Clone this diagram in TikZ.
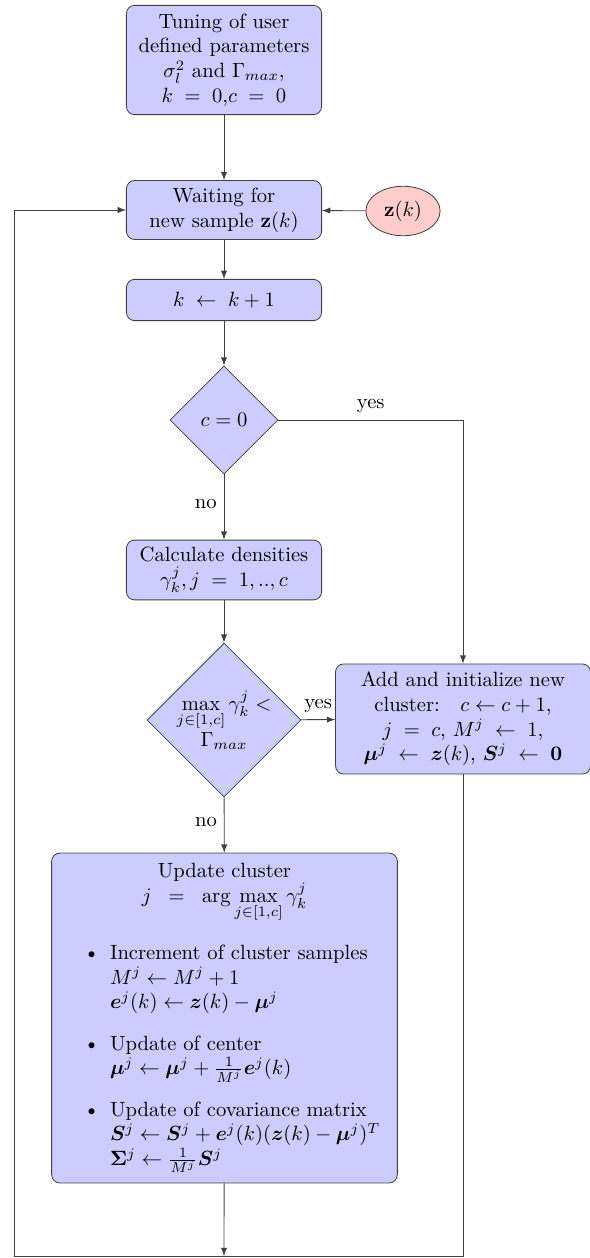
\documentclass[tikz,border=0pt]{standalone}
\usepackage{amsmath,bm}
\usetikzlibrary{shapes.geometric}
\begin{document}
\begin{tikzpicture}[x=0.485pt, y=-0.485pt,
  block/.style={draw=black!75, fill=blue!20, rounded corners=4pt, minimum width=94pt, text width=88pt, align=flush center},
  decision/.style={draw=black!75, fill=blue!20, diamond, aspect=1, inner sep=0pt, align=flush center},
  source/.style={draw=black!75, fill=red!20, ellipse, minimum width=36pt, minimum height=24pt, inner sep=1pt},
  line/.style={draw=black!75, -latex}]
  \useasboundingbox (0,0) rectangle (590,1258);
  \node[block, minimum height=53pt] (tune) at (224,60) {Tuning of user defined parameters $\sigma_l^2$ and $\Gamma_{max}$,\\ $k \;=\; 0$,$c \;=\; 0$};
  \node[block, minimum height=28.6pt] (wait) at (224,210) {Waiting for\\ new sample $\mathbf{z}(k)$};
  \node[source] (zk) at (403,211) {$\mathbf{z}(k)$};
  \node[block, minimum height=20pt] (inc) at (224,300) {$k \;\leftarrow\; k+1$};
  \node[decision, minimum width=52.4pt, minimum height=52.4pt] (czero) at (224,420) {$c=0$};
  \node[block, minimum height=29pt] (dens) at (224,570) {Calculate densities\\ $\gamma_k^j, j \;=\; 1,..,c$};
  \node[decision, minimum width=74.7pt, minimum height=74.7pt] (cmax) at (224,720) {$\max\limits_{j\in[1,c]}\gamma_k^j <$\\ $\Gamma_{max}$};
  \node[block, minimum width=123.2pt, text width=117pt, minimum height=53.4pt] (add) at (463,719) {Add and initialize new cluster:\quad $c \leftarrow c+1$,\\ $j \;=\; c$, $M^j \;\leftarrow\; 1$,\\ $\bm{\mu}^j \;\leftarrow\; \bm{z}(k)$, $\bm{S}^j \;\leftarrow\; \mathbf{0}$};
  \node[draw=black!75, fill=blue!20, rounded corners=4pt, text width=161pt, minimum height=160pt] (upd) at (224.5,1018) {%
    {\centering Update cluster\\ $j \;\;=\;\; \arg\max\limits_{j\in[1,c]}\gamma_k^j$\par}
    \begin{itemize}
      \item Increment of cluster samples\\ $M^j \leftarrow M^j+1$\\ $\bm{e}^j(k) \leftarrow \bm{z}(k)-\bm{\mu}^j$
      \item Update of center\\ $\bm{\mu}^j \leftarrow \bm{\mu}^j+\frac{1}{M^j}\bm{e}^j(k)$
      \item Update of covariance matrix\\ $\bm{S}^j \leftarrow \bm{S}^j+\bm{e}^j(k)(\bm{z}(k)-\bm{\mu}^j)^T$\\ $\bm{\Sigma}^j \leftarrow \frac{1}{M^j}\bm{S}^j$
    \end{itemize}};
  \coordinate (loopc) at (224,1256);
  \coordinate (loopr) at (463,1256);
  \coordinate (loopl) at (14,1256);

  \draw[line] (tune) -- (wait);
  \draw[line] (zk) -- (wait);
  \draw[line] (wait) -- (inc);
  \draw[line] (inc) -- (czero);
  \draw[line] (czero) -- node[left, pos=0.45] {no} (dens);
  \draw[line] (czero) -- node[above] {yes} (czero -| add) -- (add);
  \draw[line] (dens) -- (cmax);
  \draw[line] (cmax) -- node[above] {yes} (add);
  \draw[line] (cmax) -- node[left, pos=0.45] {no} (upd);
  \draw[line] (upd) -- (loopc);
  \draw[line] (add) -- (loopr) -- (loopl) |- (wait);
\end{tikzpicture}
\end{document}
